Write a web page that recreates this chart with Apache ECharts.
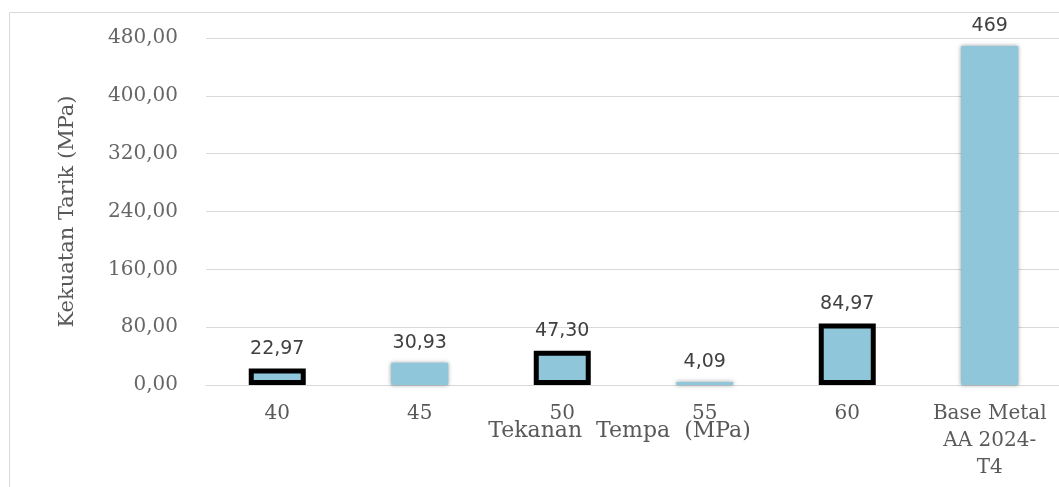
<!DOCTYPE html>
<html>
<head>
<meta charset="utf-8">
<script src="https://cdn.jsdelivr.net/npm/echarts@6/dist/echarts.min.js"></script>
<style>
  html, body { margin: 0; padding: 0; background: #ffffff; }
  #chart { width: 1059px; height: 487px; }
</style>
</head>
<body>
<div id="chart"></div>
<script>
// Tensile strength for each forging pressure, plus the base metal reference
const categories = ['40', '45', '50', '55', '60', 'Base Metal\nAA 2024-\nT4'];
const strengthValues = [22.97, 30.93, 47.30, 4.09, 84.97, 469];
// which bars carry the heavy black outline
const outlined = [true, false, true, false, true, false];
const yTicks = [0, 80, 160, 240, 320, 400, 480];

const serif = '"DejaVu Serif", "Liberation Serif", serif';
const barFill = '#8fc6da';

const fmtComma = (v, digits) => v.toFixed(digits).replace('.', ',');

const chart = echarts.init(document.getElementById('chart'), null, { renderer: 'canvas' });

const seriesData = strengthValues.map((v, i) => ({
  value: v,
  itemStyle: outlined[i]
    ? { color: barFill, borderColor: '#000000', borderWidth: 5 }
    : { color: barFill, shadowBlur: 4, shadowColor: 'rgba(40,60,70,0.55)' }
}));

chart.setOption({
  animation: false,
  backgroundColor: '#ffffff',
  graphic: [{
    type: 'rect',
    silent: true,
    shape: { x: 9.5, y: 12.5, width: 1200, height: 600 },
    style: { fill: 'none', stroke: '#d9d9d9', lineWidth: 1 }
  }],
  grid: { left: 206, right: -2, top: 38, bottom: 102, outerBoundsMode: 'none', containLabel: false },
  xAxis: {
    type: 'category',
    data: categories,
    name: 'Tekanan  Tempa  (MPa)',
    nameLocation: 'middle',
    nameGap: 35,
    nameMoveOverlap: false,
    nameTextStyle: { fontFamily: serif, fontSize: 22, color: '#595959', padding: [0, 28, 0, 0] },
    axisLine: { lineStyle: { color: '#d9d9d9', width: 1 } },
    axisTick: { show: false },
    axisLabel: {
      fontFamily: serif, fontSize: 20, color: '#595959',
      margin: 15, lineHeight: 27, interval: 0
    }
  },
  yAxis: {
    type: 'value',
    min: yTicks[0],
    max: yTicks[yTicks.length - 1],
    interval: yTicks[1] - yTicks[0],
    name: 'Kekuatan Tarik (MPa)',
    nameLocation: 'middle',
    nameGap: 128,
    nameMoveOverlap: false,
    nameTextStyle: { fontFamily: serif, fontSize: 21, color: '#595959' },
    axisLine: { show: false },
    axisTick: { show: false },
    splitLine: { lineStyle: { color: '#d9d9d9', width: 1 } },
    axisLabel: {
      fontFamily: serif, fontSize: 20, color: '#666666', margin: 28,
      formatter: v => fmtComma(v, 2)
    }
  },
  series: [{
    type: 'bar',
    data: seriesData,
    barWidth: 57,
    label: {
      show: true,
      position: 'top',
      distance: 10,
      fontFamily: '"DejaVu Sans", Verdana, sans-serif',
      fontSize: 19,
      color: '#404040',
      formatter: p => Number.isInteger(p.value) ? String(p.value) : fmtComma(p.value, 2)
    }
  }]
});
</script>
</body>
</html>
